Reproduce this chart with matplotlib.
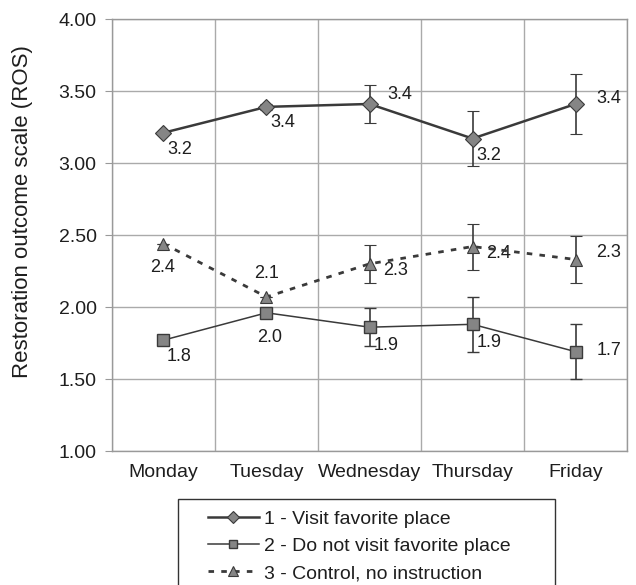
import numpy as np
import matplotlib.pyplot as plt
from matplotlib.lines import Line2D
from matplotlib.patches import Rectangle

plt.rcParams['font.family'] = ['Liberation Sans', 'DejaVu Sans']

days = ['Monday', 'Tuesday', 'Wednesday', 'Thursday', 'Friday']

visit = [3.21, 3.39, 3.41, 3.17, 3.41]
visit_err = [0.0, 0.02, 0.13, 0.19, 0.21]
visit_lbl = ['3.2', '3.4', '3.4', '3.2', '3.4']

novisit = [1.77, 1.96, 1.86, 1.88, 1.69]
novisit_err = [0.0, 0.0, 0.13, 0.19, 0.19]
novisit_lbl = ['1.8', '2.0', '1.9', '1.9', '1.7']

control = [2.44, 2.07, 2.30, 2.42, 2.33]
control_err = [0.0, 0.0, 0.13, 0.16, 0.16]
control_lbl = ['2.4', '2.1', '2.3', '2.4', '2.3']

names = ['1 - Visit favorite place', '2 - Do not visit favorite place',
         '3 - Control, no instruction']

x = np.arange(len(days))
dark = '#3a3a3a'
fill = '#858585'
txt = '#1e1e1e'

fig = plt.figure(figsize=(6.36, 5.85), dpi=100)
ax = fig.add_axes([0.176, 0.229, 0.810, 0.7385])

sty1 = dict(color=dark, lw=1.8, ls='-', marker='D', ms=8, mfc=fill, mec=dark, mew=0.8)
sty2 = dict(color=dark, lw=1.1, ls='-', marker='s', ms=8, mfc=fill, mec=dark, mew=1.0)
sty3 = dict(color=dark, lw=2.0, ls=(0, (2, 2.6)), marker='^', ms=8.5, mfc=fill, mec=dark, mew=0.8)

for vals, err, sty in [(visit, visit_err, sty1), (novisit, novisit_err, sty2),
                       (control, control_err, sty3)]:
    ax.errorbar(x, vals, yerr=err, ecolor=dark, elinewidth=1.2, capsize=4,
                capthick=1.2, zorder=3, **sty)

# data labels (offsets in points)
off1 = [(12, -12), (12, -11), (22, 7), (12, -12), (24, 4)]
off2 = [(11, -12), (2, -18), (12, -13), (12, -13), (24, 1)]
off3 = [(-1, -17), (0, 17), (19, -5), (19, -5), (24, 5)]
for vals, lbls, offs in [(visit, visit_lbl, off1), (novisit, novisit_lbl, off2),
                         (control, control_lbl, off3)]:
    for xi, v, t, o in zip(x, vals, lbls, offs):
        ax.annotate(t, (xi, v), xytext=o, textcoords='offset points',
                    ha='center', va='center', fontsize=13, color=txt)

ax.set_xlim(-0.5, 4.5)
ax.set_ylim(1.0, 4.0)
yt = np.arange(1.0, 4.01, 0.5)
ax.set_yticks(yt)
ax.set_yticklabels([f'{v:.2f}' for v in yt])
ax.set_xticks(x)
ax.set_xticklabels(days)
ax.set_xticks(np.arange(-0.5, 4.6, 1.0), minor=True)
ax.tick_params(axis='x', which='both', length=0, labelsize=14, pad=9, colors=txt)
ax.tick_params(axis='y', length=5, color='#999999', labelsize=14, pad=6, labelcolor=txt)
ax.grid(True, axis='y', which='major', color='#aaaaaa', lw=1.0)
ax.grid(True, axis='x', which='minor', color='#aaaaaa', lw=1.0)
for s in ax.spines.values():
    s.set_color('#999999')
    s.set_linewidth(1.0)
ax.set_ylabel('Restoration outcome scale (ROS)', fontsize=16, color=txt)
ax.yaxis.set_label_coords(-0.153, 0.555)

# legend: box runs off the bottom of the figure
fig.patches.append(Rectangle((178 / 636, -0.05), (555 - 178) / 636, 0.05 + 86 / 585,
                             transform=fig.transFigure, fill=False,
                             edgecolor='#333333', lw=1.0))
handles = []
for sty in [sty1, sty2, sty3]:
    h = dict(sty)
    h['ms'] = h['ms'] - 2
    handles.append(Line2D([], [], **h))
fig.legend(handles=handles, labels=names, loc='upper left',
           bbox_to_anchor=(208 / 636, 1 - 510 / 585), fontsize=14, frameon=False,
           handlelength=2.6, handletextpad=0.3, borderpad=0, labelspacing=0.5,
           numpoints=1, borderaxespad=0, labelcolor=txt)

fig.savefig('out.png', dpi=100)
